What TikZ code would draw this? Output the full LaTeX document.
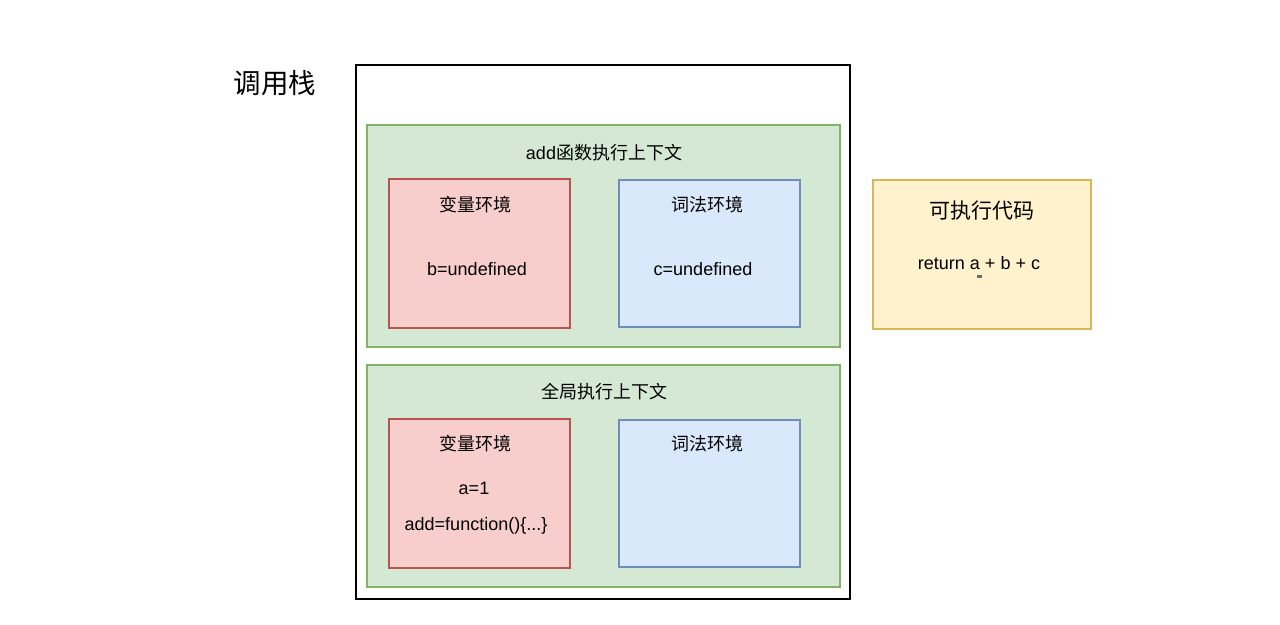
\documentclass[tikz,border=0pt]{standalone}
\usepackage{fontspec}
\setmainfont{Liberation Sans}
\newfontfamily\cjk{Noto Sans CJK SC}
\definecolor{gfill}{HTML}{D5E8D4}\definecolor{gline}{HTML}{82B366}
\definecolor{rfill}{HTML}{F8CECC}\definecolor{rline}{HTML}{B85450}
\definecolor{bfill}{HTML}{DAE8FC}\definecolor{bline}{HTML}{6C8EBF}
\definecolor{yfill}{HTML}{FFF2CC}\definecolor{yline}{HTML}{D6B656}
\begin{document}
\begin{tikzpicture}[x=1pt,y=-1pt,
  txt/.style={inner sep=0pt,font=\fontsize{18}{21}\selectfont},
  ctxt/.style={inner sep=0pt,font=\fontsize{18}{21}\selectfont\cjk},
  gbox/.style={draw=gline,fill=gfill,line width=2.6pt},
  rbox/.style={draw=rline,fill=rfill,line width=2.6pt},
  bbox/.style={draw=bline,fill=bfill,line width=2.6pt},
  ybox/.style={draw=yline,fill=yfill,line width=2.6pt}]
\useasboundingbox (0,0) rectangle (1280,624);
\fill[white] (0,0) rectangle (1280,624);
\node[txt,font=\fontsize{27.5}{30}\selectfont\cjk] (title) at (275,83) {调用栈};
\draw[line width=2.2pt,fill=white] (356,65) rectangle (850,599);
% top context
\draw[gbox] (367,125) rectangle (840,347);
\node[txt] (addctx) at (604,153) {add{\cjk 函数执行上下文}};
\draw[rbox] (389,179) rectangle (570,328);
\node[ctxt] (v1) at (475,205) {变量环境};
\node[txt] (bund) at (477,269) {b=undefined};
\draw[bbox] (619,180) rectangle (800,327);
\node[ctxt] (l1) at (707,205) {词法环境};
\node[txt] (cund) at (703,269) {c=undefined};
% global context
\draw[gbox] (367,365) rectangle (840,587);
\node[ctxt] (gctx) at (604,392) {全局执行上下文};
\draw[rbox] (389,419) rectangle (570,568);
\node[ctxt] (v2) at (475,444) {变量环境};
\node[txt] (aone) at (474,488) {a=1};
\node[txt] (addfn) at (476,526) {add=function()\{...\}};
\draw[bbox] (619,420) rectangle (800,567);
\node[ctxt] (l2) at (707,444) {词法环境};
% executable code
\draw[ybox] (873,180) rectangle (1091,329);
\node[txt,font=\fontsize{21}{24}\selectfont\cjk] (code) at (982,211) {可执行代码};
\node[txt] (ret) at (979,263) {return a + b + c};
\fill[gray!85!black] (976.5,274.5) rectangle (982,277.5);
\end{tikzpicture}
\end{document}
